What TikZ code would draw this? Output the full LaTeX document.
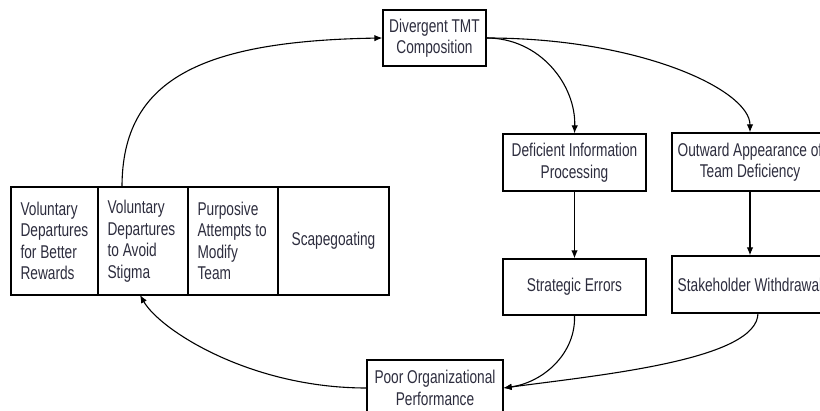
\documentclass[tikz,border=0pt]{standalone}
\usepackage{fontspec}
\setmainfont[FakeStretch=0.74]{Liberation Sans}
\usetikzlibrary{arrows.meta}
\definecolor{ink}{RGB}{45,45,62}
\tikzset{
  box/.style={draw=black, line width=1.3pt, fill=white, rectangle, inner sep=0pt,
    align=center, text=ink, font=\fontsize{18.5}{21.5}\selectfont},
  celltext/.style={anchor=west, inner sep=0pt, align=left, text=ink,
    font=\fontsize{18.5}{21.5}\selectfont},
  arr/.style={draw=black, line width=1.1pt, -{Latex[length=8pt,width=6.5pt]}},
}
\begin{document}
\begin{tikzpicture}[x=1pt, y=-1pt]
\useasboundingbox (0,0) rectangle (820,411);
\clip (0,0) rectangle (820,411);

% top of the cycle
\node[box, minimum width=103pt, minimum height=56pt] (div) at (434.5,38)
  {Divergent TMT\\Composition};

% two consequence chains
\node[box, minimum width=143pt, minimum height=57pt] (dip) at (574.5,162.5)
  {Deficient Information\\Processing};
\node[box, minimum width=156pt, minimum height=58pt] (oad) at (750,162)
  {Outward Appearance of\\Team Deficiency};
\node[box, minimum width=143pt, minimum height=56pt] (se) at (574.5,287)
  {Strategic Errors};
\node[box, minimum width=156pt, minimum height=57pt] (sw) at (750,284.5)
  {Stakeholder Withdrawal};

% outcome
\node[box, minimum width=136pt, minimum height=56pt] (pop) at (435,388)
  {Poor Organizational\\Performance};

% responses row
\node[box, minimum width=87pt, minimum height=108pt] (c1) at (54.5,241) {};
\node[box, minimum width=90pt, minimum height=108pt] (c2) at (143,241) {};
\node[box, minimum width=90pt, minimum height=108pt] (c3) at (233,241) {};
\node[box, minimum width=111pt, minimum height=108pt] (c4) at (333.5,241) {Scapegoating};
\node[celltext] (t1) at ([xshift=10pt]c1.west) {Voluntary\\Departures\\for Better\\Rewards};
\node[celltext] (t2) at ([xshift=10pt]c2.west) {Voluntary\\Departures\\to Avoid\\Stigma};
\node[celltext] (t3) at ([xshift=10pt]c3.west) {Purposive\\Attempts to\\Modify\\Team};

% connector end points on the responses row
\coordinate (c2up) at (122,187);
\coordinate (c2down) at (140,295);
\coordinate (swout) at (758,313);

% arrows
\draw[arr] (c2up) .. controls (122,80) and (200,41) .. (div.west);
\draw[arr] (div.east) .. controls (540,38) and (576,85) .. (dip.north);
\draw[arr] (div.east) .. controls (640,38) and (750,90) .. (oad.north);
\draw[arr] (dip.south) -- (se.north);
\draw[arr] (oad.south) -- (sw.north);
\draw[arr] (se.south) .. controls (576,352) and (545,382) .. (pop.east);
\draw[arr] (swout) .. controls (758,360) and (600,375) .. (pop.east);
\draw[arr] (pop.west) .. controls (250,388) and (160,330) .. (c2down);
\end{tikzpicture}
\end{document}
